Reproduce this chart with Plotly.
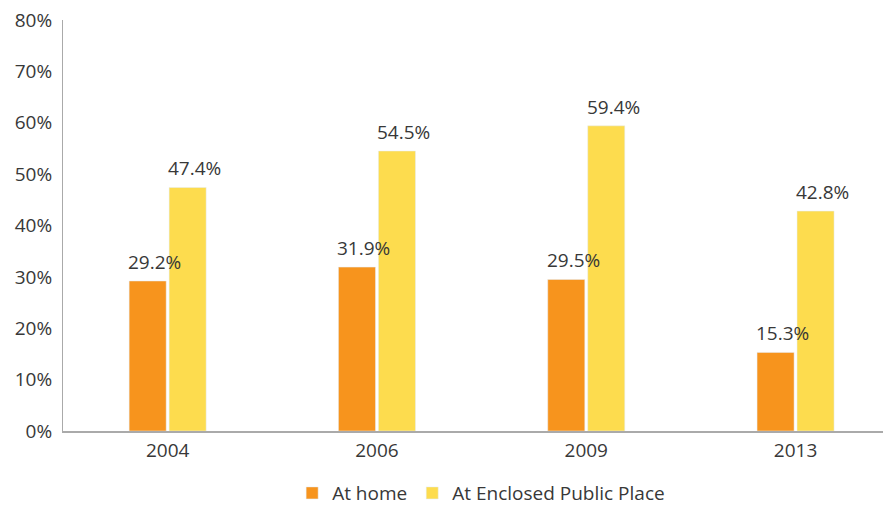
import plotly.graph_objects as go

years = ["2004", "2006", "2009", "2013"]
at_home = [29.2, 31.9, 29.5, 15.3]
at_public = [47.4, 54.5, 59.4, 42.8]
series_names = ["At home", "At Enclosed Public Place"]
colors = ["#F7941D", "#FDDC4E"]

font_family = "Open Sans, Noto Sans, sans-serif"
text_color = "#383838"

fig = go.Figure()
fig.add_trace(go.Bar(x=years, y=at_home, name=series_names[0], marker_color=colors[0],
                     width=0.177, offset=-0.184, hoverinfo="skip"))
fig.add_trace(go.Bar(x=years, y=at_public, name=series_names[1], marker_color=colors[1],
                     width=0.177, offset=0.007, hoverinfo="skip"))

annotations = []
for i, yr in enumerate(years):
    for vals, shift in ((at_home, -13), (at_public, 27)):
        annotations.append(dict(x=i, y=vals[i], text=f"{vals[i]:.1f}%", showarrow=False,
                                xref="x", yref="y", xanchor="center", yanchor="bottom",
                                xshift=shift, yshift=4,
                                font=dict(family=font_family, size=19, color=text_color)))

fig.update_layout(
    width=883, height=497,
    margin=dict(l=55, r=0, t=12, b=74, autoexpand=False),
    paper_bgcolor="white", plot_bgcolor="white",
    barmode="group",
    font=dict(family=font_family, size=19, color=text_color),
    annotations=annotations,
    showlegend=True,
    legend=dict(orientation="h", x=0.505, xanchor="center", y=-0.151, yanchor="middle",
                font=dict(family=font_family, size=19, color=text_color),
                itemwidth=30, traceorder="normal", tracegroupgap=0),
    xaxis=dict(type="category", range=[-0.5, 3.456], showline=True, linecolor="#AAAAAA",
               linewidth=2, ticks="", showgrid=False, zeroline=False, automargin=False,
               ticklabelstandoff=1, ticklabeloverflow="allow",
               tickfont=dict(family=font_family, size=19, color=text_color)),
    yaxis=dict(range=[0, 80], dtick=10, ticksuffix="%", showline=True, linecolor="#AAAAAA",
               linewidth=1, ticks="", showgrid=False, zeroline=False, automargin=False,
               ticklabelstandoff=6, ticklabeloverflow="allow",
               tickfont=dict(family=font_family, size=19, color=text_color)),
)

fig.write_html("out.html")
